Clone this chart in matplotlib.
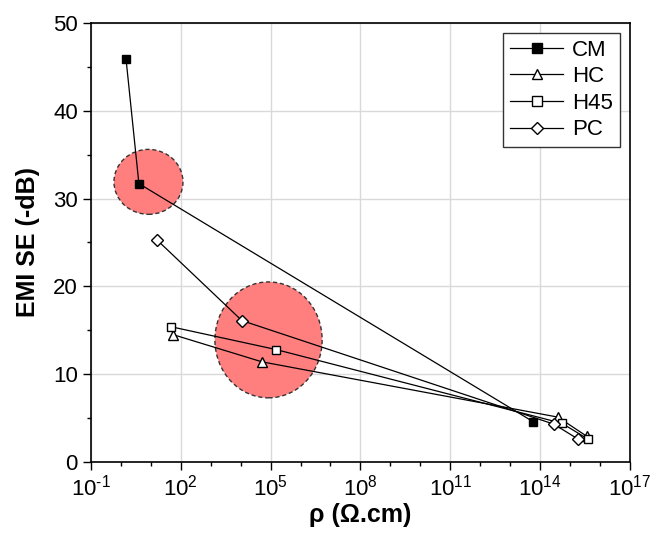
import matplotlib
matplotlib.use("Agg")
import matplotlib.pyplot as plt
from matplotlib.patches import Ellipse
from matplotlib.ticker import FixedLocator, NullFormatter, FuncFormatter
import numpy as np

plt.rcParams['font.family'] = ['Liberation Sans', 'DejaVu Sans']
plt.rcParams['mathtext.fontset'] = 'custom'
plt.rcParams['mathtext.rm'] = 'Liberation Sans'
plt.rcParams['mathtext.default'] = 'regular'

# resistivity (Ohm.cm, log10) and EMI SE (-dB)
cm_logx = [0.17, 0.60, 13.76]
cm_y = [45.9, 31.7, 4.6]
hc_logx = [1.74, 4.71, 14.60, 15.57]
hc_y = [14.5, 11.4, 5.1, 2.9]
h45_logx = [1.67, 5.18, 14.73, 15.60]
h45_y = [15.4, 12.8, 4.4, 2.6]
pc_logx = [1.20, 4.04, 14.46, 15.27]
pc_y = [25.3, 16.1, 4.3, 2.6]

# highlighted regions: (log10 centre x, centre y, width, height in axes fraction)
circles = [(0.92, 31.9, 0.128, 0.148), (4.93, 13.9, 0.199, 0.264)]

fig = plt.figure(figsize=(6.5, 5.34), dpi=100)
ax = fig.add_axes([0.14, 0.135, 0.829, 0.822])

ax.set_xscale('log')
ax.set_xlim(1e-1, 1e17)
ax.set_ylim(0, 50)

for lx, cy, w, h in circles:
   cx_ax, cy_ax = ax.transAxes.inverted().transform(ax.transData.transform((10**lx, cy)))
   ax.add_patch(Ellipse((cx_ax, cy_ax), w, h, transform=ax.transAxes,
                        facecolor='#ff7f7f', edgecolor='#333333',
                        linestyle=(0, (3, 2)), linewidth=1, zorder=1))

series = [(cm_logx, cm_y, 's', 6, 'k', 'CM'),
          (hc_logx, hc_y, '^', 7, 'white', 'HC'),
          (h45_logx, h45_y, 's', 6, 'white', 'H45'),
          (pc_logx, pc_y, 'D', 6, 'white', 'PC')]
for lx, yy, m, ms, fc, lab in series:
   ax.plot(10.0**np.array(lx), yy, color='k', lw=0.9, marker=m, ms=ms, mfc=fc,
           mec='k', label=lab, zorder=3)

def fmt(v, pos):
   e = int(round(np.log10(v)))
   return r'10$^{\text{%d}}$' % e

ax.xaxis.set_major_locator(FixedLocator([10.0**p for p in range(-1, 18, 3)]))
ax.xaxis.set_minor_locator(FixedLocator([10.0**p for p in range(-1, 18)]))
ax.xaxis.set_minor_formatter(NullFormatter())
ax.xaxis.set_major_formatter(FuncFormatter(fmt))
ax.set_yticks([0, 10, 20, 30, 40, 50])
ax.set_yticks([5, 15, 25, 35, 45], minor=True)

ax.tick_params(which='major', direction='out', length=6, width=1, labelsize=16)
ax.tick_params(which='minor', direction='out', length=3, width=1)
ax.tick_params(axis='x', which='major', pad=3)
ax.grid(which='major', color='#d9d9d9', linewidth=1)
ax.set_axisbelow(True)
for s in ax.spines.values():
   s.set_linewidth(1.2)

ax.set_xlabel('ρ (Ω.cm)', fontsize=18, fontweight='bold', labelpad=2)
ax.set_ylabel('EMI SE (-dB)', fontsize=18, fontweight='bold', labelpad=9)

leg = ax.legend(loc='upper right', fontsize=16, fancybox=False, framealpha=1,
                edgecolor='#333333', borderaxespad=0.45, handlelength=2.4,
                handletextpad=0.4, labelspacing=0.25, borderpad=0.3, markerscale=1.1)
leg.get_frame().set_linewidth(1)

fig.savefig('out.png', dpi=100)
